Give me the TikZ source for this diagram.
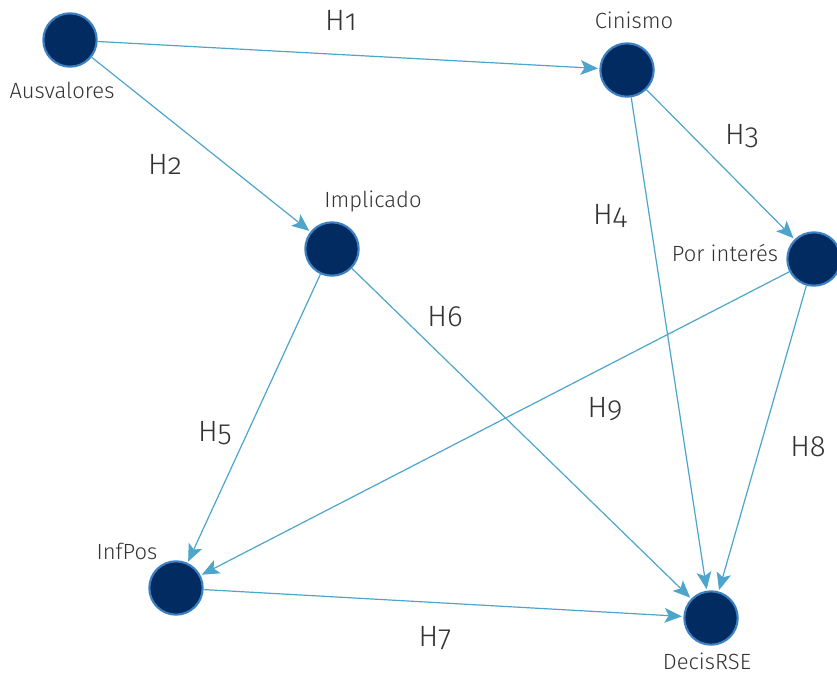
\documentclass[tikz,border=0pt]{standalone}
\usepackage{fontspec}
\setmainfont{Fira Sans Light}[Numbers=OldStyle]
\usepackage{tikz}
\usetikzlibrary{arrows.meta}
\definecolor{nodefill}{HTML}{022B62}
\definecolor{nodeline}{HTML}{3C80C2}
\definecolor{edgeblue}{HTML}{4DA5CB}
\definecolor{txt}{HTML}{333333}
\tikzset{
  var/.style={circle, fill=nodefill, draw=nodeline, line width=1.6pt, minimum size=40pt, inner sep=0pt},
  lbl/.style={text=txt, font=\fontsize{16.5}{19}\selectfont, inner sep=0pt},
  hyp/.style={text=txt, font=\fontsize{22}{26}\selectfont, inner sep=0pt},
  edge/.style={draw=edgeblue, line width=0.9pt, -{Stealth[length=13pt, width=11pt, inset=3pt]}, shorten >=1pt}
}

\begin{document}
\begin{tikzpicture}[x=0.75pt, y=-0.75pt]
  \useasboundingbox (0,0) rectangle (837,674);
  % variables
  \node [var] (aus) at (70,40) {};
  \node [var] (cin) at (627,70) {};
  \node [var] (imp) at (332,249) {};
  \node [var] (por) at (814,259) {};
  \node [var] (inf) at (176,588) {};
  \node [var] (dec) at (711,618) {};
  \node [lbl] (laus) at (62,90) {Ausvalores};
  \node [lbl] (lcin) at (634,20) {Cinismo};
  \node [lbl] (limp) at (373,201) {Implicado};
  \node [lbl] (lpor) at (725,253) {Por interés};
  \node [lbl] (linf) at (127,551) {InfPos};
  \node [lbl] (ldec) at (707,661) {DecisRSE};
  % hypotheses
  \draw [edge] (aus) -- (cin);
  \draw [edge] (aus) -- (imp);
  \draw [edge] (cin) -- (por);
  \draw [edge] (cin) -- (dec);
  \draw [edge] (imp) -- (inf);
  \draw [edge] (imp) -- (dec);
  \draw [edge] (inf) -- (dec);
  \draw [edge] (por) -- (dec);
  \draw [edge] (por) -- (inf);
  \node [hyp] (h1) at (341,20) {H1};
  \node [hyp] (h2) at (165,164) {H2};
  \node [hyp] (h3) at (742,136) {H3};
  \node [hyp] (h4) at (610,216) {H4};
  \node [hyp] (h5) at (215,433) {H5};
  \node [hyp] (h6) at (445,317) {H6};
  \node [hyp] (h7) at (435,638) {H7};
  \node [hyp] (h8) at (808,447) {H8};
  \node [hyp] (h9) at (605,409) {H9};
\end{tikzpicture}
\end{document}
